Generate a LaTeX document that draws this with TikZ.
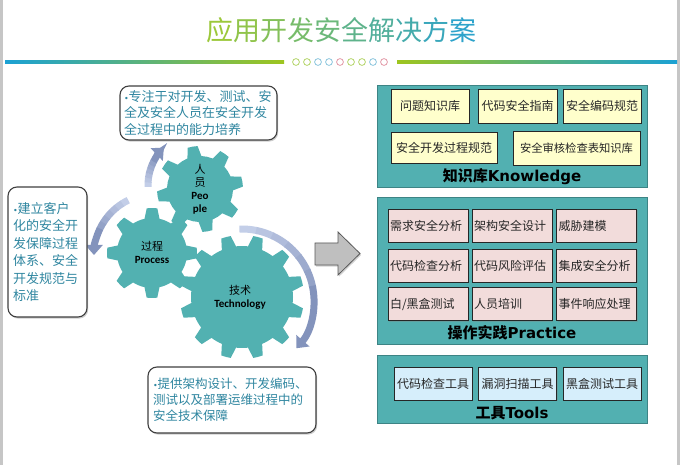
\documentclass[tikz,border=0pt]{standalone}
\usepackage{fontspec}
\setmainfont{Carlito}
\newfontfamily\cjk{Noto Sans CJK SC}
\newfontfamily\wide{DejaVu Sans}
\usetikzlibrary{arrows.meta,shadows}

\definecolor{teal1}{HTML}{52B0B1}
\definecolor{gearc}{HTML}{52B1B1}
\definecolor{txtc}{HTML}{2F86A0}
\definecolor{greenT}{HTML}{9CC83A}
\definecolor{blueT}{HTML}{2DA3CB}
\definecolor{lineB}{HTML}{1BA1D4}
\definecolor{lineG}{HTML}{9EC51F}
\definecolor{cg}{HTML}{B5D56A}
\definecolor{cb}{HTML}{8CC6DD}
\definecolor{cp}{HTML}{E39AA8}
\definecolor{arcL}{HTML}{C3CEE8}
\definecolor{arcD}{HTML}{8393BC}
\definecolor{yel}{HTML}{FFFFCC}
\definecolor{pinkb}{HTML}{F2DCDB}
\definecolor{blueb}{HTML}{D6EEFB}

\newcommand{\bul}{{\wide\fontsize{8}{8}\selectfont•}}

\newcommand{\gearfill}[6]{%
 \begin{scope}[shift={(#1,#2)}]
 \pgfmathsetmacro{\gp}{360/#3}
 \fill[gearc] (#6:#4)
 \foreach \k in {1,...,#3}{
   arc[start angle={#6+(\k-1)*\gp}, delta angle={0.45*\gp}, radius=#4]
   -- ({#6+(\k-1+0.575)*\gp}:#5)
   arc[start angle={#6+(\k-1+0.575)*\gp}, delta angle={0.3*\gp}, radius=#5]
   -- ({#6+\k*\gp}:#4)
 } -- cycle;
 \end{scope}}

\newcommand{\gradarc}[5]{%
 \begin{scope}[shift={(#1,#2)}]
 \pgfmathsetmacro{\da}{(#5-#4)/10}
 \foreach \i in {0,...,5}{
   \pgfmathtruncatemacro{\pc}{100-\i*15}
   \draw[line width=7pt, draw=arcL!\pc!arcD] ({#4+\i*\da}:#3) arc[start angle={#4+\i*\da}, delta angle={\da*1.08}, radius=#3];
 }
 \draw[line width=7pt, draw=arcD, -{Triangle[width=17pt,length=10pt]}] ({#4+6*\da}:#3) arc[start angle={#4+6*\da}, delta angle={4*\da}, radius=#3];
 \end{scope}}

\begin{document}
\begin{tikzpicture}[x=1pt,y=-1pt,
 callout/.style={draw=black!75, line width=1.1pt, fill=white, rounded corners=9pt, align=left, text=txtc, inner sep=0pt, drop shadow={opacity=0.4, shadow xshift=1.2pt, shadow yshift=-1.6pt}},
 panel/.style={fill=teal1, draw=teal1!75!black, line width=0.5pt},
 boxbase/.style={draw=black!85, line width=0.8pt, drop shadow={opacity=0.35,shadow xshift=1.2pt,shadow yshift=-1.2pt}, font=\cjk\fontsize{12}{14}\selectfont, inner sep=0pt, text=black!85},
 kbox/.style={boxbase, fill=yel},
 pbox/.style={boxbase, fill=pinkb, align=left, text width=76pt, inner xsep=2pt, minimum height=33pt},
 tbox/.style={boxbase, fill=blueb, minimum width=78pt, minimum height=33pt},
 ptitle/.style={font=\wide\bfseries\fontsize{15}{17}\selectfont, text=black},
 glabel/.style={align=center, text=black, font=\fontsize{11}{13}\selectfont}
]
\useasboundingbox (0,0) rectangle (680,465);
\fill[white] (0,0) rectangle (680,465);
\fill[gray!45] (0,0) rectangle (3,465);
\fill[gray!45] (677,0) rectangle (680,465);

% title
\node[font=\cjk\fontsize{27}{30}\selectfont] (title) at (341,30) {\textcolor{blueT!0!greenT}{应}\textcolor{blueT!11!greenT}{用}\textcolor{blueT!22!greenT}{开}\textcolor{blueT!33!greenT}{发}\textcolor{blueT!44!greenT}{安}\textcolor{blueT!56!greenT}{全}\textcolor{blueT!67!greenT}{解}\textcolor{blueT!78!greenT}{决}\textcolor{blueT!89!greenT}{方}\textcolor{blueT!100!greenT}{案}};
\shade[left color=lineB, right color=lineG] (5,60.5) rectangle (284,63.5);
\shade[left color=lineG, right color=lineB] (397,60.5) rectangle (677,63.5);
\foreach \i/\c in {0/cg,1/cg,2/cb,3/cb,4/cp,5/cg,6/cg,7/cb,8/cp}
  \draw[\c, line width=0.8pt] (296+\i*11, 62) circle (3.4);

% gears
\gearfill{152}{253}{8}{35}{45}{-122.6}
\gearfill{200}{189}{8}{33}{43}{-132.6}
\gearfill{242}{297}{12}{51}{62}{-126.75}

\node[glabel] (people) at (200,189) {{\cjk 人}\\[0pt]{\cjk 员}\\\textbf{Peo}\\\textbf{ple}};
\node[glabel] (process) at (152,252) {{\cjk 过程}\\\textbf{Process}};
\node[glabel] (tech) at (240,297) {{\cjk 技术}\\\textbf{Technology}};

% curved arrows
\gradarc{200}{185}{52}{178}{226}
\gradarc{155}{255}{61}{244}{180}
\gradarc{242}{301}{72}{-92}{41}

% callouts
\node[callout, text width=149pt, minimum height=54pt, inner xsep=4pt, font=\cjk\fontsize{13}{16.2}\selectfont] (c1) at (198.5,113) {\bul 专注于对开发、测试、安\\全及安全人员在安全开发\\全过程中的能力培养};
\node[callout, text width=69pt, minimum height=130pt, inner xsep=5pt, font=\cjk\fontsize{13}{17.5}\selectfont] (c2) at (47.5,252) {\bul 建立客户\\化的安全开\\发保障过程\\体系、安全\\开发规范与\\标准};
\node[callout, text width=158pt, minimum height=66pt, inner xsep=5pt, font=\cjk\fontsize{12.5}{16.2}\selectfont] (c3) at (232,400) {\bul 提供架构设计、开发编码、\\测试以及部署运维过程中的\\安全技术保障};

% big gray arrow
\filldraw[fill=gray!50, draw=black!65, line width=0.8pt, drop shadow={opacity=0.35,shadow xshift=1.2pt,shadow yshift=-1.5pt}]
  (315,243) -- (338,243) -- (338,232) -- (360,253.5) -- (338,275) -- (338,265) -- (315,265) -- cycle;

% panels
\fill[panel] (377,85) rectangle (647,187);
\fill[panel] (377,197) rectangle (647,344);
\fill[panel] (377,355) rectangle (647,423);
\draw[teal1!75!black, line width=0.5pt] (377,85) rectangle (647,187) (377,197) rectangle (647,344) (377,355) rectangle (647,423);

% knowledge
\node[kbox, minimum width=78pt, minimum height=34pt] (k1) at (430,106) {问题知识库};
\node[kbox, minimum width=79pt, minimum height=34pt] (k2) at (517.5,106) {代码安全指南};
\node[kbox, minimum width=78pt, minimum height=34pt] (k3) at (602,106) {安全编码规范};
\node[kbox, minimum width=106pt, minimum height=31pt] (k4) at (444,147.5) {安全开发过程规范};
\node[kbox, minimum width=127pt, minimum height=34pt, font=\cjk\fontsize{11.3}{13}\selectfont] (k5) at (576.5,148) {安全审核检查表知识库};
\node[ptitle] (kt) at (512,177) {{\cjk 知识库}Knowledge};

% practice
\node[pbox] (p1) at (428,225.5) {需求安全分析};
\node[pbox] (p2) at (512,225.5) {架构安全设计};
\node[pbox] (p3) at (596.5,225.5) {威胁建模};
\node[pbox] (p4) at (428,265.5) {代码检查分析};
\node[pbox] (p5) at (512,265.5) {代码风险评估};
\node[pbox] (p6) at (596.5,265.5) {集成安全分析};
\node[pbox] (p7) at (428,304) {白/黑盒测试};
\node[pbox] (p8) at (512,304) {人员培训};
\node[pbox] (p9) at (596.5,304) {事件响应处理};
\node[ptitle] (pt) at (512,333) {{\cjk 操作实践}Practice};

% tools
\node[tbox] (t1) at (433,383.5) {代码检查工具};
\node[tbox] (t2) at (517.5,383.5) {漏洞扫描工具};
\node[tbox] (t3) at (602,383.5) {黑盒测试工具};
\node[ptitle] (tt) at (512,413) {{\cjk 工具}Tools};
\end{tikzpicture}
\end{document}
